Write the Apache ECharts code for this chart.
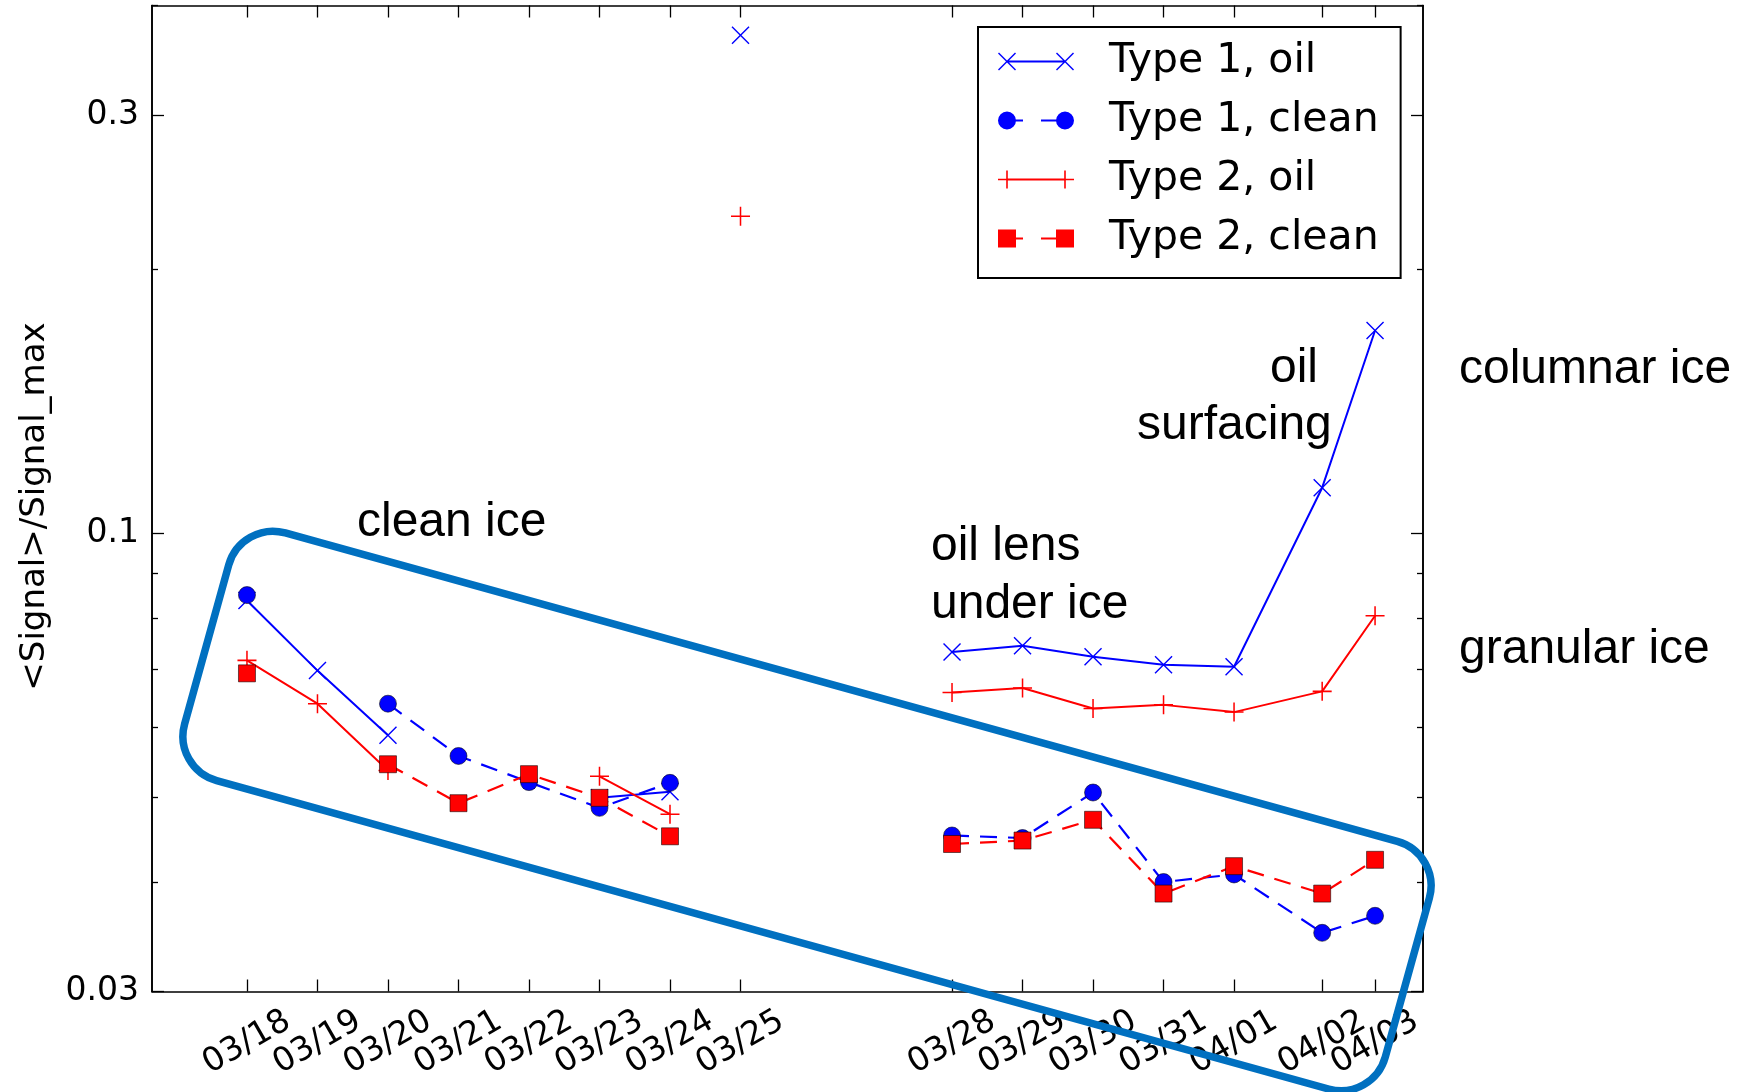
<!DOCTYPE html>
<html>
<head>
<meta charset="utf-8">
<script src="https://cdn.jsdelivr.net/npm/echarts@6/dist/echarts.min.js"></script>
<style>
html,body{margin:0;padding:0;background:#ffffff;}
#chart{width:1739px;height:1092px;}
</style>
</head>
<body>
<div id="chart"></div>
<script>
// ---------------- data ----------------
const dateLabels = ['03/18','03/19','03/20','03/21','03/22','03/23','03/24','03/25','03/28','03/29','03/30','03/31','04/01','04/02','04/03'];
// days after 03/18 (measurement times)
const dayOffsets = [0, 1, 2, 3, 4, 5, 6, 7, 10, 11, 12, 13, 14, 15.25, 16];

const type1Oil   = [0.0838, 0.0697, 0.0588, null, null, 0.0499, 0.0507, 0.370, 0.0732, 0.0744, 0.0723, 0.0708, 0.0704, 0.1127, 0.1703];
const type1Clean = [0.0850, null, 0.0639, 0.0557, 0.0520, 0.0486, 0.0519, null, 0.0452, 0.0449, 0.0506, 0.0400, 0.0408, 0.0350, 0.0366];
const type2Oil   = [0.0716, 0.0639, 0.0536, null, null, 0.0528, 0.0478, 0.230, 0.0658, 0.0666, 0.0631, 0.0637, 0.0625, 0.0660, 0.0805];
const type2Clean = [0.0692, null, 0.0545, 0.0492, 0.0531, 0.0499, 0.0451, null, 0.0442, 0.0446, 0.0471, 0.0388, 0.0417, 0.0388, 0.0424];

const unconnectedDates = ['03/25'];

const seriesNames = ['Type 1, oil', 'Type 1, clean', 'Type 2, oil', 'Type 2, clean'];

const yTickValues = [0.03, 0.1, 0.3];
const yTickLabels = ['0.03', '0.1', '0.3'];
const yMinorTickValues = [0.04, 0.05, 0.06, 0.07, 0.08, 0.09, 0.2, 0.4];
const yAxisName = '<Signal>/Signal_max';

const annotations = [
  {text: 'clean ice',    x: 357,  y: 523},
  {text: 'oil lens',     x: 931,  y: 547},
  {text: 'under ice',    x: 931,  y: 605},
  {text: 'oil',          x: 1270, y: 369},
  {text: 'surfacing',    x: 1137, y: 426},
  {text: 'columnar ice', x: 1459, y: 370},
  {text: 'granular ice', x: 1459, y: 650}
];

// ---------------- helpers ----------------
const BLUE = '#0000ff', RED = '#ff0000';
const TICK_FONT = '"DejaVu Sans", sans-serif';

function buildData(values) {
  const out = [];
  values.forEach((v, i) => {
    const x = dayOffsets[i];
    const iso = unconnectedDates.indexOf(dateLabels[i]) >= 0;
    if (iso) out.push([x, '-']);
    out.push([x, v == null ? '-' : v]);
    if (iso) out.push([x, '-']);
  });
  return out;
}
function xLabel(v) {
  for (let i = 0; i < dayOffsets.length; i++) if (Math.abs(dayOffsets[i] - v) < 1e-6) return dateLabels[i];
  return '';
}
function yLabel(v) {
  for (let i = 0; i < yTickValues.length; i++) if (Math.abs(yTickValues[i] - v) / yTickValues[i] < 1e-6) return yTickLabels[i];
  return '';
}
// a label whose next tick is less than a day away goes on an extra label-only axis,
// so ECharts' min/max overlap check does not hide either of them
const crowdedLabelDays = dayOffsets.filter((d, i) => i < dayOffsets.length - 1 && dayOffsets[i + 1] - d < 0.9);
const mainLabelDays = dayOffsets.filter(d => crowdedLabelDays.indexOf(d) < 0);

const X_SYM = 'path://M0,1.1 L1.1,0 L10,8.9 L18.9,0 L20,1.1 L11.1,10 L20,18.9 L18.9,20 L10,11.1 L1.1,20 L0,18.9 L8.9,10 Z';
const PLUS_SYM = 'path://M9.2,0 H10.8 V9.2 H20 V10.8 H10.8 V20 H9.2 V10.8 H0 V9.2 H9.2 Z';

// legend icons (76 x 18 box): line sample with a marker at each end
function xIcon(a) { return `M${a},1 L${a+1},0 L${a+9},8 L${a+17},0 L${a+18},1 L${a+10},9 L${a+18},17 L${a+17},18 L${a+9},10 L${a+1},18 L${a},17 L${a+8},9 Z `; }
function plusIcon(a) { return `M${a+8.2},0 H${a+9.8} V8.2 H${a+18} V9.8 H${a+9.8} V18 H${a+8.2} V9.8 H${a} V8.2 H${a+8.2} Z `; }
function circleIcon(a) { return `M${a},9 A9,9 0 1,1 ${a+18},9 A9,9 0 1,1 ${a},9 Z `; }
function squareIcon(a) { return `M${a},0 H${a+18} V18 H${a} Z `; }
const solidSeg = 'M9,8 H67 V10 H9 Z ';
const dashSeg = 'M9,8 H25 V10 H9 Z M43,8 H67 V10 H43 Z ';
const legendIcons = [
  'path://' + solidSeg + xIcon(0) + xIcon(58),
  'path://' + dashSeg + circleIcon(0) + circleIcon(58),
  'path://' + solidSeg + plusIcon(0) + plusIcon(58),
  'path://' + dashSeg + squareIcon(0) + squareIcon(58)
];
const legendColors = [BLUE, BLUE, RED, RED];

// ---------------- chart ----------------
const chart = echarts.init(document.getElementById('chart'), null, {renderer: 'canvas'});

const xMin = -1.347, xMax = 16.68;
const yMin = 0.03, yMax = 0.4;

const axisLineStyle = {color: '#000', width: 1.6};
const tickLineStyle = {color: '#000', width: 1.3};

const xLabelStyle = {
  show: true, formatter: xLabel,
  rotate: 30, align: 'center', verticalAlign: 'middle', margin: 51,
  fontSize: 33, fontFamily: TICK_FONT, color: '#000',
  hideOverlap: false, showMinLabel: true, showMaxLabel: true
};

function xAxisDef(position, labelDays, showLine) {
  return {
    type: 'value', min: xMin, max: xMax, position: position,
    axisLine: {show: showLine, onZero: false, lineStyle: axisLineStyle},
    splitLine: {show: false},
    axisTick: {show: showLine, inside: true, length: 12, customValues: dayOffsets, lineStyle: tickLineStyle},
    axisLabel: labelDays ? Object.assign({customValues: labelDays}, xLabelStyle) : {show: false}
  };
}
function yAxisDef(position, minor, showLabels, withName) {
  const ax = {
    type: 'log', logBase: 10, min: yMin, max: yMax, position: position,
    axisLine: {show: true, onZero: false, lineStyle: axisLineStyle},
    splitLine: {show: false},
    minorTick: {show: false},
    axisTick: {show: true, inside: true, length: minor ? 6 : 12, customValues: minor ? yMinorTickValues : yTickValues, lineStyle: tickLineStyle},
    axisLabel: showLabels ? {
      show: true, customValues: yTickValues, formatter: yLabel, margin: 13,
      fontSize: 33, fontFamily: TICK_FONT, color: '#000',
      showMinLabel: true, showMaxLabel: true
    } : {show: false}
  };
  if (withName) {
    ax.name = yAxisName;
    ax.nameLocation = 'middle';
    ax.nameGap = 100;
    ax.nameTextStyle = {fontSize: 34, fontFamily: TICK_FONT, color: '#000', padding: [0, 16, 0, 0]};
  }
  return ax;
}

const graphics = [];
annotations.forEach(a => {
  graphics.push({
    type: 'text', x: a.x, y: a.y, z: 50,
    style: {text: a.text, font: '48px "Liberation Sans", Arial, sans-serif', fill: '#000', align: 'left', verticalAlign: 'middle'}
  });
});
// highlight frame around the clean-ice measurements
const boxAngle = 15.5 * Math.PI / 180;
graphics.push({
  type: 'rect', x: 807, y: 811, rotation: -boxAngle, z: 60,
  shape: {x: -623, y: -128.5, width: 1246, height: 257, r: 46},
  style: {fill: 'none', stroke: '#0070c0', lineWidth: 7.5}
});

const option = {
  animation: false,
  backgroundColor: '#ffffff',
  grid: {left: 152, right: 316, top: 5.5, bottom: 100.5, containLabel: false, outerBoundsMode: 'none'},
  legend: {
    orient: 'vertical', left: 978, top: 27, selectedMode: false,
    padding: [14, 22, 19, 20],
    borderColor: '#000', borderWidth: 2, backgroundColor: '#fff',
    itemWidth: 76, itemHeight: 18, itemGap: 18,
    textStyle: {fontSize: 41, fontFamily: TICK_FONT, color: '#000', padding: [0, 0, 0, 30]},
    data: seriesNames.map((n, i) => ({name: n, icon: legendIcons[i], itemStyle: {color: legendColors[i], borderWidth: 0}})),
    z: 20
  },
  xAxis: [
    xAxisDef('bottom', crowdedLabelDays, false),
    xAxisDef('bottom', mainLabelDays, true),
    xAxisDef('top', null, true)
  ],
  yAxis: [yAxisDef('left', false, true, true), yAxisDef('left', true, false, false), yAxisDef('right', false, false, false), yAxisDef('right', true, false, false)],
  series: [
    {
      name: seriesNames[0], type: 'line', xAxisIndex: 0, yAxisIndex: 0,
      data: buildData(type1Oil), symbol: X_SYM, symbolSize: 18, showSymbol: true,
      lineStyle: {color: BLUE, width: 2}, itemStyle: {color: BLUE}, connectNulls: false
    },
    {
      name: seriesNames[1], type: 'line', xAxisIndex: 0, yAxisIndex: 0,
      data: buildData(type1Clean), symbol: 'circle', symbolSize: 17, showSymbol: true,
      lineStyle: {color: BLUE, width: 2.2, type: [17, 11]}, itemStyle: {color: BLUE, borderColor: 'rgba(0,0,0,0.55)', borderWidth: 1}, connectNulls: false
    },
    {
      name: seriesNames[2], type: 'line', xAxisIndex: 0, yAxisIndex: 0,
      data: buildData(type2Oil), symbol: PLUS_SYM, symbolSize: 19, showSymbol: true,
      lineStyle: {color: RED, width: 2}, itemStyle: {color: RED}, connectNulls: false
    },
    {
      name: seriesNames[3], type: 'line', xAxisIndex: 0, yAxisIndex: 0,
      data: buildData(type2Clean), symbol: 'rect', symbolSize: 17, showSymbol: true,
      lineStyle: {color: RED, width: 2.2, type: [17, 11]}, itemStyle: {color: RED, borderColor: 'rgba(0,0,0,0.55)', borderWidth: 1}, connectNulls: false
    }
  ],
  graphic: graphics
};
chart.setOption(option);
</script>
</body>
</html>
